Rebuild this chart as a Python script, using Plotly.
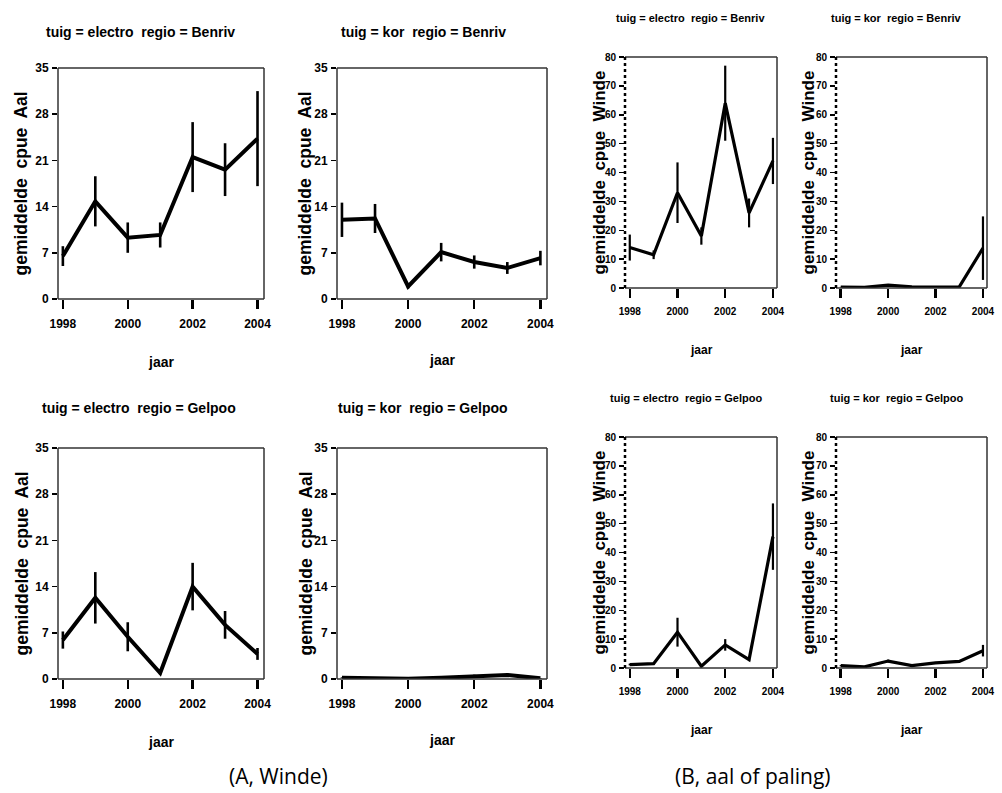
import plotly.graph_objects as go

years = [1998, 1999, 2000, 2001, 2002, 2003, 2004]

# Panel A (Aal), cpue means and error half-widths
a_electro_benriv = [6.5, 14.8, 9.3, 9.7, 21.5, 19.6, 24.3]
a_electro_benriv_err = [1.5, 3.8, 2.3, 1.9, 5.3, 4.0, 7.2]
a_kor_benriv = [12.0, 12.2, 1.9, 7.1, 5.6, 4.7, 6.2]
a_kor_benriv_err = [2.6, 2.2, 0.3, 1.4, 1.0, 0.9, 1.1]
a_electro_gelpoo = [5.9, 12.3, 6.4, 0.9, 14.0, 8.2, 3.8]
a_electro_gelpoo_err = [1.3, 3.9, 2.2, 0.2, 3.6, 2.1, 0.9]
a_kor_gelpoo = [0.2, 0.15, 0.05, 0.2, 0.45, 0.6, 0.1]
a_kor_gelpoo_err = [0.05, 0.05, 0.05, 0.1, 0.2, 0.3, 0.05]

# Panel B (Winde)
b_electro_benriv = [14.0, 11.5, 33.0, 18.0, 64.0, 26.0, 44.0]
b_electro_benriv_err = [4.5, 1.5, 10.5, 3.0, 13.0, 5.0, 8.0]
b_kor_benriv = [0.3, 0.2, 1.0, 0.4, 0.3, 0.4, 13.8]
b_kor_benriv_err = [0.1, 0.1, 0.3, 0.1, 0.1, 0.1, 11.0]
b_electro_gelpoo = [1.2, 1.5, 12.4, 0.6, 8.0, 2.9, 45.5]
b_electro_gelpoo_err = [0.3, 0.3, 5.0, 0.2, 2.0, 0.5, 11.5]
b_kor_gelpoo = [0.8, 0.4, 2.4, 0.8, 1.8, 2.3, 6.0]
b_kor_gelpoo_err = [0.2, 0.1, 0.5, 0.2, 0.3, 0.3, 2.0]

titles = ["tuig = electro  regio = Benriv", "tuig = kor  regio = Benriv",
          "tuig = electro  regio = Gelpoo", "tuig = kor  regio = Gelpoo"]
a_ticks = [0, 7, 14, 21, 28, 35]
b_ticks = [0, 10, 20, 30, 40, 50, 60, 70, 80]
x_ticks = [1998, 2000, 2002, 2004]
captions = ["(A, Winde)", "(B, aal of paling)"]

W, H = 1002, 793
SANS = "Liberation Sans, Arial, sans-serif"

# panel geometry in pixels: (left, right, top, bottom)
panels = [
    dict(box=(58, 264, 68, 299), y=a_electro_benriv, e=a_electro_benriv_err, kind="A", title=titles[0], tx=140, ty=32, yl=21, jy=362),
    dict(box=(337, 547, 68, 299), y=a_kor_benriv, e=a_kor_benriv_err, kind="A", title=titles[1], tx=423, ty=32, yl=305, jy=360),
    dict(box=(58, 264, 448, 679), y=a_electro_gelpoo, e=a_electro_gelpoo_err, kind="A", title=titles[2], tx=139, ty=408, yl=21, jy=742),
    dict(box=(337, 547, 448, 679), y=a_kor_gelpoo, e=a_kor_gelpoo_err, kind="A", title=titles[3], tx=423, ty=408, yl=305, jy=740),
    dict(box=(625, 777, 57, 288), y=b_electro_benriv, e=b_electro_benriv_err, kind="B", title=titles[0], tx=690, ty=18, yl=599, jy=350),
    dict(box=(836, 987, 57, 288), y=b_kor_benriv, e=b_kor_benriv_err, kind="B", title=titles[1], tx=896, ty=18, yl=808, jy=350),
    dict(box=(625, 777, 437, 668), y=b_electro_gelpoo, e=b_electro_gelpoo_err, kind="B", title=titles[2], tx=686, ty=398, yl=599, jy=730),
    dict(box=(836, 987, 437, 668), y=b_kor_gelpoo, e=b_kor_gelpoo_err, kind="B", title=titles[3], tx=897, ty=398, yl=808, jy=730),
]

fig = go.Figure()
layout = dict(width=W, height=H, margin=dict(l=0, r=0, t=0, b=0, autoexpand=False),
              paper_bgcolor="white", plot_bgcolor="white", showlegend=False,
              annotations=[], shapes=[])

def px(x):
    return x / W

def py(y):
    return 1 - y / H

for i, p in enumerate(panels):
    n = i + 1
    xa = "xaxis" if n == 1 else f"xaxis{n}"
    ya = "yaxis" if n == 1 else f"yaxis{n}"
    xr = "x" if n == 1 else f"x{n}"
    yr = "y" if n == 1 else f"y{n}"
    l, r, t, b = p["box"]
    isA = p["kind"] == "A"
    lw = 4 if isA else 3.2
    ew = 2.6 if isA else 2.2
    fig.add_trace(go.Scatter(
        x=years, y=p["y"], mode="lines", xaxis=xr, yaxis=yr,
        line=dict(color="black", width=lw), cliponaxis=False,
        error_y=dict(type="data", array=p["e"], visible=True, width=0,
                     thickness=ew, color="black"),
        hoverinfo="skip"))
    if isA:
        xrange = [1997.85, 2004.2]
        yrange = [0, 35]
        yt = a_ticks
        tfs, tickfs, ytfs, yls, jfs = 14, 12, 12, 17.5, 14
        ylabel = "gemiddelde  cpue  Aal"
    else:
        xrange = [1997.8, 2004.17]
        yrange = [0, 80]
        yt = b_ticks
        tfs, tickfs, ytfs, yls, jfs = 11, 10, 10, 17, 12
        ylabel = "gemiddelde  cpue  Winde"
    layout[xa] = dict(domain=[px(l), px(r)], range=xrange, anchor=yr, automargin=False,
                      tickvals=x_ticks, ticktext=[str(v) for v in x_ticks],
                      ticks="outside", ticklen=9, tickwidth=2.5, tickcolor="black",
                      showline=False, showgrid=False, zeroline=False, fixedrange=True,
                      tickfont=dict(family=SANS, size=tickfs, color="black", weight="bold"),
                      ticklabelstandoff=5)
    layout[ya] = dict(domain=[py(b), py(t)], range=yrange, anchor=xr, automargin=False,
                      tickvals=yt, ticks="outside", ticklen=5, tickwidth=1.5, fixedrange=True,
                      tickcolor="black", showline=False, showgrid=False, zeroline=False,
                      tickfont=dict(family=SANS, size=ytfs, color="black", weight="bold"),
                      ticklabelstandoff=1)
    # box spines
    spine = dict(color="#333333", width=1.5)
    for (x0, y0, x1, y1) in [(0, 1, 1, 1), (1, 0, 1, 1), (0, 0, 1, 0)]:
        layout["shapes"].append(dict(type="line", xref=f"{xr} domain", yref=f"{yr} domain",
                                     x0=x0, y0=y0, x1=x1, y1=y1, line=spine, layer="above"))
    if isA:
        layout["shapes"].append(dict(type="line", xref=f"{xr} domain", yref=f"{yr} domain",
                                     x0=0, y0=0, x1=0, y1=1, line=spine, layer="above"))
    else:
        layout["shapes"].append(dict(type="line", xref=f"{xr} domain", yref=f"{yr} domain",
                                     x0=0, y0=0, x1=0, y1=1,
                                     line=dict(color="black", width=2.5, dash="dot"), layer="above"))
    # titles
    layout["annotations"].append(dict(text=p["title"], x=px(p["tx"]), y=py(p["ty"]),
                                      xref="paper", yref="paper", showarrow=False,
                                      xanchor="center", yanchor="middle",
                                      font=dict(family=SANS, size=tfs, color="black", weight="bold")))
    layout["annotations"].append(dict(text=ylabel, x=px(p["yl"]), y=py((t + b) / 2),
                                      xref="paper", yref="paper", showarrow=False, textangle=-90,
                                      xanchor="center", yanchor="middle",
                                      font=dict(family=SANS, size=yls, color="black", weight="bold")))
    layout["annotations"].append(dict(text="jaar", x=px((l + r) / 2), y=py(p["jy"]),
                                      xref="paper", yref="paper", showarrow=False,
                                      xanchor="center", yanchor="middle",
                                      font=dict(family=SANS, size=jfs, color="black", weight="bold")))

layout["annotations"].append(dict(text=captions[0], x=px(278), y=py(776), xref="paper", yref="paper",
                                  showarrow=False, xanchor="center", yanchor="middle",
                                  font=dict(family="Open Sans, Noto Sans, sans-serif", size=21, color="black")))
layout["annotations"].append(dict(text=captions[1], x=px(753), y=py(776), xref="paper", yref="paper",
                                  showarrow=False, xanchor="center", yanchor="middle",
                                  font=dict(family="Open Sans, Noto Sans, sans-serif", size=21, color="black")))

fig.update_layout(**layout)
fig.write_html("out.html", config={"displayModeBar": False, "staticPlot": True},
               post_script="document.body.style.margin='0px';document.body.style.overflow='hidden';")
